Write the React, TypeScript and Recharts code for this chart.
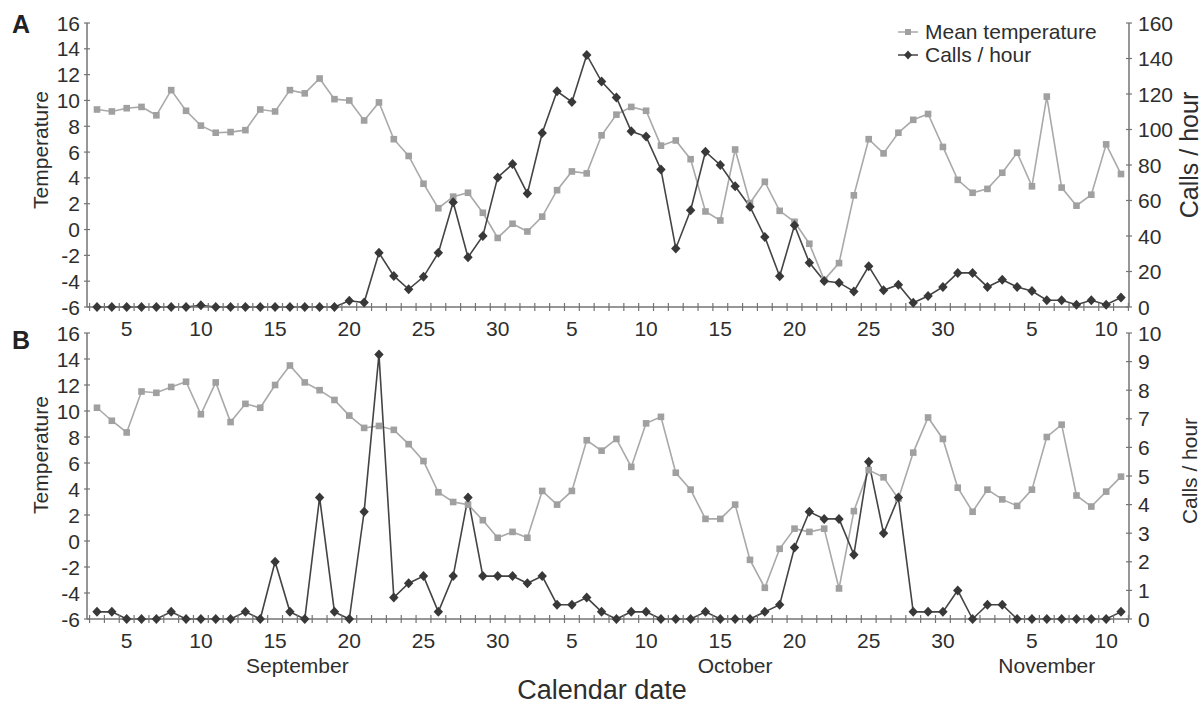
import { LineChart, Line, XAxis, YAxis, Legend, Label } from "recharts";

const FONT = '"Liberation Sans", Arial, Helvetica, sans-serif';
const TEXT = "#2e2e2e";
const AXIS = "#747474";
const TEMP_LINE = "#a9a9a9";
const TEMP_DOT = "#a0a0a0";
const CALLS_LINE = "#444444";
const CALLS_DOT = "#383838";

// calendar: 3 Sep .. 11 Nov
const monthNames = ["September", "October", "November"];
const septemberDays = [3, 4, 5, 6, 7, 8, 9, 10, 11, 12, 13, 14, 15, 16, 17, 18, 19, 20, 21, 22, 23, 24, 25, 26, 27, 28, 29, 30];
const octoberDays = [1, 2, 3, 4, 5, 6, 7, 8, 9, 10, 11, 12, 13, 14, 15, 16, 17, 18, 19, 20, 21, 22, 23, 24, 25, 26, 27, 28, 29, 30, 31];
const novemberDays = [1, 2, 3, 4, 5, 6, 7, 8, 9, 10, 11];

// panel A
const tempA = [
  9.3, 9.15, 9.4, 9.5, 8.85, 10.8, 9.2, 8.05, 7.5, 7.55, 7.7, 9.3, 9.15, 10.8, 10.55, 11.7, 10.1, 10.0, 8.45, 9.85,
  7.0, 5.7, 3.55, 1.65, 2.55, 2.85, 1.3, -0.65, 0.45, -0.15, 1.0, 3.05, 4.5, 4.35, 7.3, 8.9, 9.5, 9.2, 6.5, 6.9,
  5.45, 1.4, 0.7, 6.2, 2.05, 3.7, 1.45, 0.6, -1.1, -3.9, -2.6, 2.65, 7.0, 5.9, 7.5, 8.5, 8.95, 6.4, 3.85, 2.85,
  3.15, 4.4, 5.95, 3.35, 10.3, 3.25, 1.85, 2.7, 6.6, 4.3,
];
const callsA = [
  0, 0, 0, 0, 0, 0, 0, 1, 0, 0, 0, 0, 0, 0, 0, 0, 0, 3.5, 2.5, 30.5,
  17.5, 10, 17, 30.5, 59, 28, 40, 73, 80.5, 64, 98, 121.5, 115.5, 142, 127, 118, 99, 96, 77.5, 33,
  54.5, 87.5, 80, 68, 56.5, 39.5, 17.3, 46, 25, 14.6, 13.7, 8.8, 22.9, 9.4, 12.6, 2.4, 6.2, 11.3, 19.2, 19.2,
  11.3, 15.4, 11.3, 9, 3.8, 3.8, 1.3, 3.8, 1.3, 5.3,
];

// panel B
const tempB = [
  10.25, 9.25, 8.35, 11.5, 11.4, 11.85, 12.25, 9.75, 12.2, 9.15, 10.55, 10.25, 12.0, 13.5, 12.2, 11.6, 10.85, 9.65, 8.7, 8.85,
  8.55, 7.45, 6.15, 3.75, 3.0, 2.8, 1.6, 0.25, 0.7, 0.25, 3.85, 2.8, 3.85, 7.75, 6.95, 7.85, 5.7, 9.05, 9.55, 5.25,
  3.95, 1.7, 1.7, 2.8, -1.45, -3.6, -0.6, 0.95, 0.7, 0.95, -3.65, 2.3, 5.45, 4.9, 3.25, 6.8, 9.5, 7.85, 4.1, 2.25,
  3.95, 3.2, 2.7, 3.95, 8.0, 8.95, 3.5, 2.65, 3.8, 4.95,
];
const callsB = [
  0.25, 0.25, 0, 0, 0, 0.25, 0, 0, 0, 0, 0.25, 0, 2, 0.25, 0, 4.25, 0.25, 0, 3.75, 9.25,
  0.75, 1.25, 1.5, 0.25, 1.5, 4.25, 1.5, 1.5, 1.5, 1.25, 1.5, 0.5, 0.5, 0.75, 0.25, 0, 0.25, 0.25, 0, 0,
  0, 0.25, 0, 0, 0, 0.25, 0.5, 2.5, 3.75, 3.5, 3.5, 2.25, 5.5, 3, 4.25, 0.25, 0.25, 0.25, 1, 0,
  0.5, 0.5, 0, 0, 0, 0, 0, 0, 0, 0.25,
];

const tempTicks = [-6, -4, -2, 0, 2, 4, 6, 8, 10, 12, 14, 16];
const callsTicksA = [0, 20, 40, 60, 80, 100, 120, 140, 160];
const callsTicksB = [0, 1, 2, 3, 4, 5, 6, 7, 8, 9, 10];

const dates = [
  ...septemberDays.map((day) => ({ month: 0, day })),
  ...octoberDays.map((day) => ({ month: 1, day })),
  ...novemberDays.map((day) => ({ month: 2, day })),
];

const rowsA = dates.map((d, i) => ({ key: `${monthNames[d.month]} ${d.day}`, temp: tempA[i], calls: callsA[i] }));
const rowsB = dates.map((d, i) => ({ key: `${monthNames[d.month]} ${d.day}`, temp: tempB[i], calls: callsB[i] }));

const W = 1204;
const LEFT_W = 87;
const RIGHT_W = 75;
const PAD = { left: 10, right: 8 };
const STEP = (W - LEFT_W - RIGHT_W - PAD.left - PAD.right) / (dates.length - 1);

function squareDot(p: any) {
  return <rect key={`sq-${p.index}`} x={p.cx - 3.3} y={p.cy - 3.3} width={6.6} height={6.6} fill={TEMP_DOT} />;
}

function diamondDot(p: any) {
  const { cx, cy } = p;
  return (
    <path
      key={`dm-${p.index}`}
      d={`M${cx},${cy - 5} L${cx + 4.7},${cy} L${cx},${cy + 5} L${cx - 4.7},${cy} Z`}
      fill={CALLS_DOT}
    />
  );
}

function makeDateTick(withMonths: boolean) {
  return function DateTick(props: any) {
    const { x, y, payload } = props;
    const index = props.index ?? payload.index;
    const d = dates[index];
    if (!d) return null;
    const first = index === 0 || dates[index - 1].month !== d.month;
    const count = dates.filter((e) => e.month === d.month).length;
    return (
      <g>
        <line x1={x - STEP / 2} x2={x - STEP / 2} y1={y - 4} y2={y + 4} stroke={AXIS} strokeWidth={1.2} />
        {index === dates.length - 1 && (
          <line x1={x + STEP / 2} x2={x + STEP / 2} y1={y - 4} y2={y + 4} stroke={AXIS} strokeWidth={1.2} />
        )}
        {d.day % 5 === 0 && (
          <text x={x} y={y + 21} dy="0.36em" textAnchor="middle" fontFamily={FONT} fontSize={21} fill={TEXT}>
            {d.day}
          </text>
        )}
        {withMonths && first && (
          <text
            x={x + ((count - 1) / 2) * STEP}
            y={y + 46}
            dy="0.36em"
            textAnchor="middle"
            fontFamily={FONT}
            fontSize={21}
            fill={TEXT}
          >
            {monthNames[d.month]}
          </text>
        )}
      </g>
    );
  };
}

function makeValueTick(side: "left" | "right") {
  return function ValueTick(props: any) {
    const { x, y, payload } = props;
    return (
      <g>
        <line x1={x - 3} x2={x + 3} y1={y} y2={y} stroke={AXIS} strokeWidth={1.2} />
        <text
          x={side === "left" ? x - 7 : x + 9}
          y={y}
          dy="0.36em"
          textAnchor={side === "left" ? "end" : "start"}
          fontFamily={FONT}
          fontSize={21}
          fill={TEXT}
        >
          {payload.value}
        </text>
      </g>
    );
  };
}

function sideTitle(text: string, dx: number, shift: number, size: number) {
  return function SideTitle(props: any) {
    const vb = props.viewBox || { x: 0, y: 0, width: 0, height: 0 };
    const cx = vb.x + dx;
    const cy = vb.y + vb.height / 2 + shift;
    return (
      <text
        x={cx}
        y={cy}
        dy="0.36em"
        transform={`rotate(-90 ${cx} ${cy})`}
        textAnchor="middle"
        fontFamily={FONT}
        fontSize={size}
        fill={TEXT}
      >
        {text}
      </text>
    );
  };
}

function CalendarTitle(props: any) {
  const vb = props.viewBox || { x: 0, y: 0, width: 0, height: 0 };
  return (
    <text
      x={vb.x + vb.width / 2 - 6}
      y={vb.y + 70}
      dy="0.36em"
      textAnchor="middle"
      fontFamily={FONT}
      fontSize={27}
      fill={TEXT}
    >
      Calendar date
    </text>
  );
}

function LegendBox(props: any) {
  const items = [...(props.payload || [])].sort((a: any, b: any) =>
    a.dataKey === "temp" ? -1 : b.dataKey === "temp" ? 1 : 0
  );
  return (
    <div style={{ fontFamily: FONT, fontSize: 21, color: TEXT, lineHeight: "23px" }}>
      {items.map((it: any) => {
        const isTemp = it.dataKey === "temp";
        return (
          <div key={it.value} style={{ display: "flex", alignItems: "center", height: 23 }}>
            <svg width={22} height={12}>
              <line x1={1} x2={21} y1={6} y2={6} stroke={isTemp ? TEMP_LINE : CALLS_LINE} strokeWidth={1.5} />
              {isTemp ? (
                <rect x={8} y={3} width={6} height={6} fill={TEMP_DOT} />
              ) : (
                <path d="M11,1.5 L15,6 L11,10.5 L7,6 Z" fill={CALLS_DOT} />
              )}
            </svg>
            <span style={{ marginLeft: 6 }}>{it.value}</span>
          </div>
        );
      })}
    </div>
  );
}

function Panel({
  rows,
  height,
  top,
  xHeight,
  callsTicks,
  withMonths,
  tempShift,
  callsShift,
  callsTitleSize,
  legend,
}: {
  rows: { key: string; temp: number; calls: number }[];
  height: number;
  top: number;
  xHeight: number;
  callsTicks: number[];
  withMonths: boolean;
  tempShift: number;
  callsShift: number;
  callsTitleSize: number;
  legend: boolean;
}) {
  return (
    <LineChart width={W} height={height} data={rows} margin={{ top, right: 0, bottom: 0, left: 0 }}>
      <XAxis
        dataKey="key"
        interval={0}
        height={xHeight}
        padding={PAD}
        tickLine={false}
        tickSize={0}
        tickMargin={0}
        axisLine={{ stroke: AXIS, strokeWidth: 1.5 }}
        tick={makeDateTick(withMonths)}
      >
        {withMonths && <Label content={CalendarTitle} />}
      </XAxis>
      <YAxis
        yAxisId="temp"
        width={LEFT_W}
        domain={[-6, 16]}
        ticks={tempTicks}
        interval={0}
        tickLine={false}
        tickSize={0}
        tickMargin={0}
        axisLine={{ stroke: AXIS, strokeWidth: 1.5 }}
        tick={makeValueTick("left")}
      >
        <Label content={sideTitle("Temperature", 40, tempShift, 21)} />
      </YAxis>
      <YAxis
        yAxisId="calls"
        orientation="right"
        width={RIGHT_W}
        domain={[callsTicks[0], callsTicks[callsTicks.length - 1]]}
        ticks={callsTicks}
        interval={0}
        tickLine={false}
        tickSize={0}
        tickMargin={0}
        axisLine={{ stroke: AXIS, strokeWidth: 1.5 }}
        tick={makeValueTick("right")}
      >
        <Label content={sideTitle("Calls / hour", 60, callsShift, callsTitleSize)} />
      </YAxis>
      <Line
        yAxisId="temp"
        type="linear"
        dataKey="temp"
        name="Mean temperature"
        stroke={TEMP_LINE}
        strokeWidth={1.6}
        dot={squareDot}
        activeDot={false}
        isAnimationActive={false}
      />
      <Line
        yAxisId="calls"
        type="linear"
        dataKey="calls"
        name="Calls / hour"
        stroke={CALLS_LINE}
        strokeWidth={1.6}
        dot={diamondDot}
        activeDot={false}
        isAnimationActive={false}
      />
      {legend && (
        <Legend
          layout="vertical"
          align="center"
          verticalAlign="middle"
          wrapperStyle={{ top: 20, left: 897, width: 240 }}
          content={LegendBox}
        />
      )}
    </LineChart>
  );
}

const letterStyle = {
  position: "absolute" as const,
  left: 12,
  fontFamily: FONT,
  fontWeight: "bold" as const,
  fontSize: 25,
  lineHeight: "25px",
  color: "#222",
};

export default function App() {
  return (
    <div style={{ position: "absolute", left: 0, top: 0, width: W, height: 706, background: "#fff" }}>
      <div style={{ position: "absolute", left: 0, top: 0 }}>
        <Panel
          rows={rowsA}
          height={345}
          top={23}
          xHeight={38}
          callsTicks={callsTicksA}
          withMonths={false}
          tempShift={-15}
          callsShift={-10}
          callsTitleSize={25}
          legend
        />
      </div>
      <div style={{ position: "absolute", left: 0, top: 315 }}>
        <Panel
          rows={rowsB}
          height={391}
          top={18}
          xHeight={87}
          callsTicks={callsTicksB}
          withMonths
          tempShift={-21}
          callsShift={-5}
          callsTitleSize={21}
          legend={false}
        />
      </div>
      <div style={{ ...letterStyle, top: 12 }}>A</div>
      <div style={{ ...letterStyle, top: 328 }}>B</div>
    </div>
  );
}
